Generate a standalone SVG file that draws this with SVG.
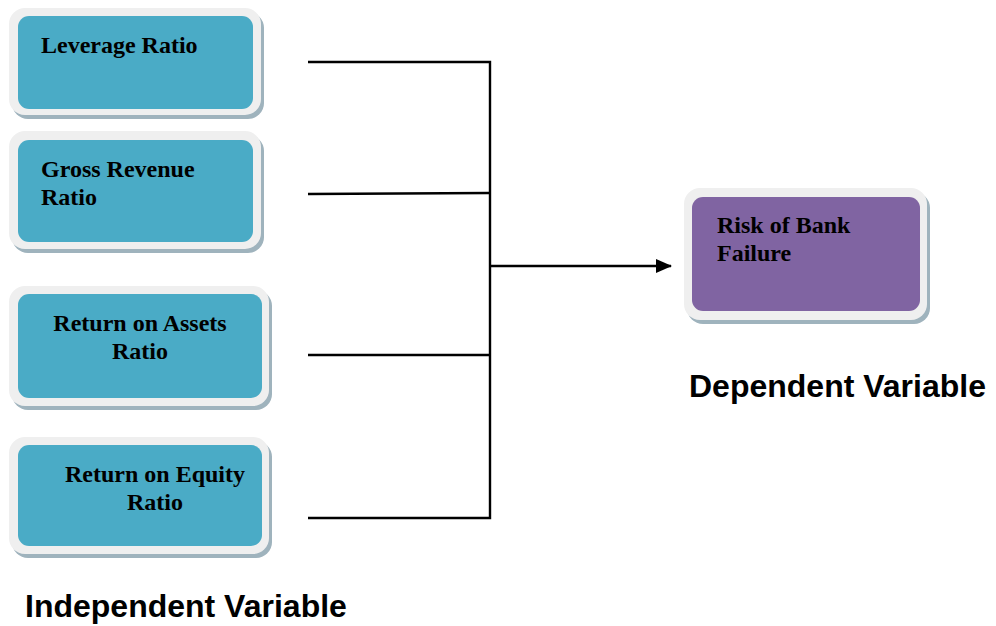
<svg xmlns="http://www.w3.org/2000/svg" width="996" height="626" viewBox="0 0 996 626">
<defs>
<style>
.shadow{fill:#9fb3bd}
.frame{fill:#efefef}
.teal{fill:#4aabc6}
.purple{fill:#8064a2}
.lbl{font-family:"Liberation Serif","Times New Roman",serif;font-weight:bold;font-size:24px;fill:#000}
.cap{font-family:"Liberation Sans",Arial,sans-serif;font-weight:bold;font-size:32px;fill:#000}
.conn{stroke:#000;stroke-width:2.4;fill:none}
</style>
<marker id="arrow" markerWidth="16" markerHeight="14" refX="15" refY="7" orient="auto" markerUnits="userSpaceOnUse">
<path d="M0,0 L16,7 L0,14 Z" fill="#000"/>
</marker>
</defs>
<rect width="996" height="626" fill="#fff"/>

<g id="leverage">
<rect class="shadow" x="12" y="12" width="252" height="107" rx="16"/>
<rect class="frame" x="9" y="8" width="252" height="107" rx="16"/>
<rect class="teal" x="18" y="16" width="235" height="93" rx="11"/>
<text class="lbl" x="41" y="53">Leverage Ratio</text>
</g>

<g id="gross">
<rect class="shadow" x="12" y="135" width="252" height="118" rx="16"/>
<rect class="frame" x="9" y="131" width="252" height="118" rx="16"/>
<rect class="teal" x="18" y="140" width="235" height="102" rx="11"/>
<text class="lbl" x="41" y="177">Gross Revenue</text>
<text class="lbl" x="41" y="205">Ratio</text>
</g>

<g id="roa">
<rect class="shadow" x="12" y="290" width="260" height="120" rx="16"/>
<rect class="frame" x="9" y="286" width="260" height="120" rx="16"/>
<rect class="teal" x="18" y="294" width="244" height="104" rx="11"/>
<text class="lbl" x="140" y="331" text-anchor="middle">Return on Assets</text>
<text class="lbl" x="140" y="359" text-anchor="middle">Ratio</text>
</g>

<g id="roe">
<rect class="shadow" x="12" y="441" width="260" height="117" rx="16"/>
<rect class="frame" x="9" y="437" width="260" height="117" rx="16"/>
<rect class="teal" x="18" y="445" width="244" height="101" rx="11"/>
<text class="lbl" x="155" y="482" text-anchor="middle">Return on Equity</text>
<text class="lbl" x="155" y="510" text-anchor="middle">Ratio</text>
</g>

<g id="risk">
<rect class="shadow" x="687" y="192" width="243" height="132" rx="16"/>
<rect class="frame" x="684" y="188" width="243" height="132" rx="16"/>
<rect class="purple" x="692" y="197" width="228" height="114" rx="11"/>
<text class="lbl" x="717" y="233">Risk of Bank</text>
<text class="lbl" x="717" y="261">Failure</text>
</g>

<g id="connectors">
<polyline class="conn" points="308,62 490,62 490,518 308,518"/>
<line class="conn" x1="308" y1="194" x2="490" y2="193"/>
<line class="conn" x1="308" y1="355" x2="490" y2="355"/>
<line class="conn" x1="490" y1="266" x2="671" y2="266" marker-end="url(#arrow)"/>
</g>

<g id="captions">
<text class="cap" x="689" y="397">Dependent Variable</text>
<text class="cap" x="25" y="617">Independent Variable</text>
</g>
</svg>
